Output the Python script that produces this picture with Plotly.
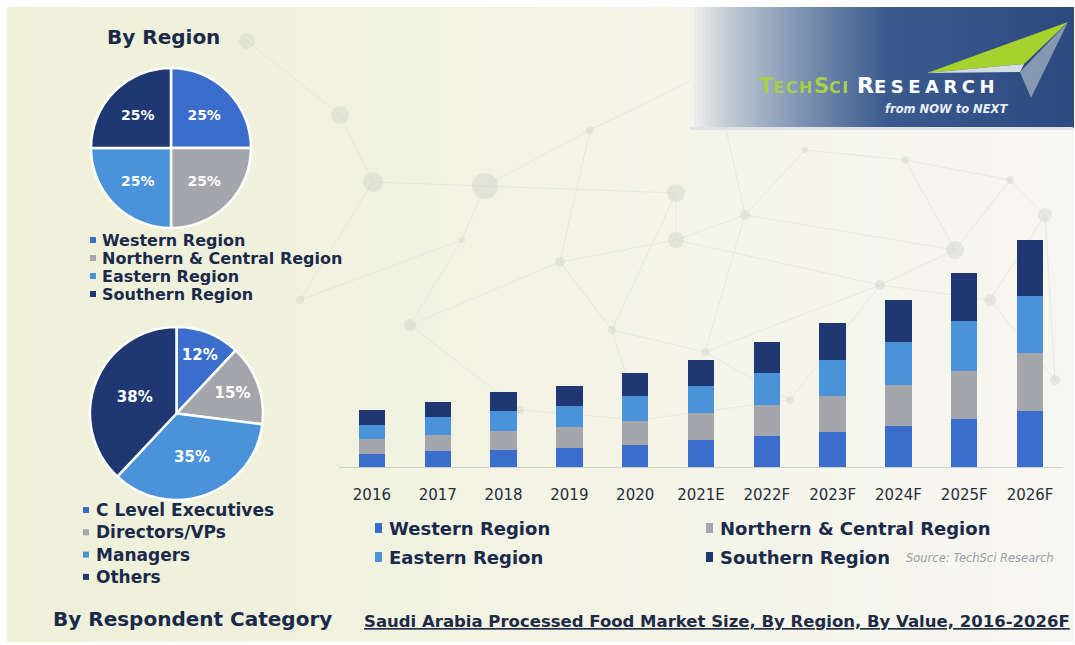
import plotly.graph_objects as go

W, H = 1075, 645

# ---- data -------------------------------------------------------------
years = ["2016", "2017", "2018", "2019", "2020", "2021E",
         "2022F", "2023F", "2024F", "2025F", "2026F"]
western = [13.0, 15.6, 17.3, 19.0, 22.3, 26.7, 30.7, 34.7, 40.7, 48.0, 55.7]
northern = [15.0, 16.7, 19.0, 21.0, 23.3, 27.3, 31.0, 36.7, 41.7, 47.7, 58.3]
eastern = [14.0, 17.7, 19.3, 21.3, 25.3, 26.7, 32.3, 36.0, 42.3, 50.7, 56.7]
southern = [15.0, 15.0, 19.0, 19.3, 22.7, 26.7, 30.7, 36.7, 42.3, 47.7, 56.0]

region_labels = ["Western Region", "Northern & Central Region",
                 "Eastern Region", "Southern Region"]
region_share = [25, 25, 25, 25]

respondent_labels = ["C Level Executives", "Directors/VPs", "Managers", "Others"]
respondent_share = [12, 15, 35, 38]

# ---- style --------------------------------------------------------------
colors = ["#3a6dcc", "#a5a6ab", "#4a93da", "#1f3873"]
TXT = "#1b2a4a"
BOLD_FONT = "DejaVu Sans"


def px(x):
    return x / W


def py(y):
    return 1 - y / H


def lerp_color(c1, c2, t):
    a = [int(c1[i:i + 2], 16) for i in (1, 3, 5)]
    b = [int(c2[i:i + 2], 16) for i in (1, 3, 5)]
    return "#" + "".join(f"{round(a[k] + (b[k] - a[k]) * t):02x}" for k in range(3))


shapes = []
annotations = []


def rect(x0, y0, x1, y1, color, opacity=1.0):
    shapes.append(dict(type="rect", xref="paper", yref="paper",
                       x0=px(x0), x1=px(x1), y0=py(y1), y1=py(y0),
                       fillcolor=color, line=dict(width=0),
                       opacity=opacity, layer="below"))


def poly(points, color):
    d = "M" + " L".join(f"{px(x)},{py(y)}" for x, y in points) + " Z"
    shapes.append(dict(type="path", xref="paper", yref="paper", path=d,
                       fillcolor=color, line=dict(width=0), layer="below"))


def text(x, y, s, size, color=TXT, xanchor="left", yanchor="middle",
         family=BOLD_FONT):
    annotations.append(dict(x=px(x), y=py(y), xref="paper", yref="paper",
                            text=s, showarrow=False, xanchor=xanchor,
                            yanchor=yanchor, align="left",
                            font=dict(size=size, color=color, family=family)))


# ---- background panel with soft horizontal gradient ----------------------
n_strips = 40
x_start, x_end = 7, 1073
for i in range(n_strips):
    xa = x_start + (x_end - x_start) * i / n_strips
    xb = x_start + (x_end - x_start) * (i + 1) / n_strips + 1
    rect(xa, 7, xb, 642, lerp_color("#eef0d8", "#f7f7f1", i / (n_strips - 1)))

# faint network decoration
nodes = {
    "a": (340, 115), "b": (373, 182), "c": (485, 186), "d": (247, 41),
    "e": (713, 70), "f": (410, 325), "g": (560, 262), "h": (612, 330),
    "i": (676, 193), "j": (676, 240), "k": (745, 215), "l": (705, 352),
    "m": (880, 285), "n": (990, 300), "o": (1045, 215), "p": (1055, 380),
    "q": (905, 160), "r": (590, 130), "s": (462, 240), "t": (520, 410),
    "u": (805, 150), "v": (300, 300), "w": (790, 400), "x": (955, 250),
    "y": (640, 420), "z": (1010, 180),
}
edges = ["ab", "bc", "cs", "sf", "fg", "gh", "hi", "ij", "jk", "kl", "lh",
         "gr", "re", "ek", "ku", "uq", "qx", "xm", "mn", "no", "op", "pn",
         "ml", "lw", "wy", "yt", "tf", "ci", "sv", "vb", "jm", "kx", "wm",
         "zo", "zq", "zx", "hy", "gj", "rc", "ad"]
for e in edges:
    (x0, y0), (x1, y1) = nodes[e[0]], nodes[e[1]]
    shapes.append(dict(type="line", xref="paper", yref="paper",
                       x0=px(x0), y0=py(y0), x1=px(x1), y1=py(y1),
                       line=dict(color="#dfe0d7", width=1), opacity=0.6,
                       layer="below"))
node_r = {"a": 9, "b": 10, "c": 13, "d": 8, "e": 8, "f": 6, "g": 5, "h": 4,
          "i": 9, "j": 8, "k": 5, "l": 4, "m": 5, "n": 6, "o": 7, "p": 5,
          "q": 4, "r": 4, "s": 3, "t": 4, "u": 3, "v": 4, "w": 4, "x": 9,
          "y": 3, "z": 4}
for k, (cx, cy) in nodes.items():
    r = node_r[k]
    shapes.append(dict(type="circle", xref="paper", yref="paper",
                       x0=px(cx - r), x1=px(cx + r), y0=py(cy + r), y1=py(cy - r),
                       fillcolor="#cbcdc5", line=dict(width=0), opacity=0.38,
                       layer="below"))

# ---- logo banner --------------------------------------------------------
n_fade = 48
for i in range(n_fade):
    xa = 690 + 200 * i / n_fade
    xb = 690 + 200 * (i + 1) / n_fade + 1
    t = i / (n_fade - 1)
    rect(xa, 7, xb, 128, lerp_color("#f2f3ee", "#3a5a8e", t ** 0.8))
n_dark = 20
for i in range(n_dark):
    xa = 889 + 184 * i / n_dark
    xb = 889 + 184 * (i + 1) / n_dark + 1
    rect(xa, 7, xb, 128, lerp_color("#3a5a8e", "#2d4a80", i / (n_dark - 1)))
rect(690, 127, 1073, 130, "#dfe3e6")

# paper-plane mark
poly([(927, 73), (1068, 22), (1024, 64)], "#a6d22e")
poly([(927, 73), (1024, 64), (1020, 72)], "#d3dbe3")
poly([(1020, 72), (1068, 22), (1031, 98)], "#8599b3")

text(757, 86,
     "<b>T<span style='font-size:16px;letter-spacing:1.5px'>ECH</span>"
     "S<span style='font-size:16px;letter-spacing:1.5px'>CI</span></b>",
     21, color="#a8cf4a", family="DejaVu Sans")
text(855, 86,
     "<b>R<span style='font-size:18px;letter-spacing:4.5px'>ESEARCH</span></b>",
     22, color="#ffffff", family="DejaVu Sans")
text(1010, 109, "<i><b>from NOW to NEXT</b></i>", 11.5, color="#e8eef6",
     xanchor="right", family="DejaVu Sans")

# ---- left column text and legends ---------------------------------------
text(163, 37, "<b>By Region</b>", 20, xanchor="center")
text(192, 619, "<b>By Respondent Category</b>", 20, xanchor="center")

for i, (lab, c) in enumerate(zip(region_labels, colors)):
    yc = 240 + i * 18
    rect(90, yc - 3, 96, yc + 3, c)
    text(100, yc, f"<b>{lab}</b>", 16)

for i, (lab, c) in enumerate(zip(respondent_labels, colors)):
    yc = 510 + i * 22.3
    rect(83, yc - 3, 89, yc + 3, c)
    text(94, yc, f"<b>{lab}</b>", 17)

# ---- bar chart legend, source and title ----------------------------------
legend_pos = [(375, 528), (706, 528), (375, 557), (706, 557)]
for (lx, ly), lab, c in zip(legend_pos, region_labels, colors):
    rect(lx, ly - 5, lx + 7, ly + 5, c)
    text(lx + 12, ly, f"<b>{lab}</b>", 18)

text(1056, 558, "<i>Source: TechSci Research</i>", 11.5, color="#9a9ea3",
     xanchor="right", family="DejaVu Sans")
text(1072, 621,
     "<b><span style='text-decoration:underline'>Saudi Arabia Processed Food Market Size, "
     "By Region, By Value, 2016-2026F</span></b>",
     16.5, color="#1f2b45", xanchor="right")

# ---- traces -------------------------------------------------------------
fig = go.Figure()

fig.add_trace(go.Pie(
    labels=region_labels, values=region_share, sort=False,
    direction="clockwise", rotation=0,
    marker=dict(colors=colors, line=dict(color="#ffffff", width=2.5)),
    textinfo="percent", textposition="inside",
    insidetextorientation="horizontal",
    textfont=dict(color="#ffffff", size=14, family=BOLD_FONT, weight="bold"),
    domain=dict(x=[px(91), px(251)], y=[py(228), py(68)]),
    showlegend=False, hoverinfo="label+percent", automargin=False,
))

fig.add_trace(go.Pie(
    labels=respondent_labels, values=respondent_share, sort=False,
    direction="clockwise", rotation=0,
    marker=dict(colors=colors, line=dict(color="#ffffff", width=2.5)),
    textinfo="percent", textposition="inside",
    insidetextorientation="horizontal",
    textfont=dict(color="#ffffff", size=15, family=BOLD_FONT, weight="bold"),
    domain=dict(x=[px(90), px(263)], y=[py(500), py(327)]),
    showlegend=False, hoverinfo="label+percent", automargin=False,
))

for vals, lab, c in zip([western, northern, eastern, southern], region_labels, colors):
    fig.add_trace(go.Bar(x=years, y=vals, name=lab, marker=dict(color=c, line=dict(width=0)),
                         showlegend=False))

fig.update_layout(
    width=W, height=H,
    margin=dict(l=0, r=0, t=0, b=0),
    paper_bgcolor="#ffffff", plot_bgcolor="rgba(0,0,0,0)",
    barmode="stack", bargap=0.6,
    xaxis=dict(domain=[px(339), px(1063)], showgrid=False, zeroline=False,
               showline=True, linecolor="#cfd3cf", linewidth=1,
               ticks="", ticklabelstandoff=14,
               tickfont=dict(size=15, color="#262d3b", family="DejaVu Sans"),
               fixedrange=True),
    yaxis=dict(domain=[py(467), py(467) + 230 / H], range=[0, 230],
               visible=False, fixedrange=True),
    shapes=shapes,
    annotations=annotations,
    showlegend=False,
)

fig.write_html("out.html")
